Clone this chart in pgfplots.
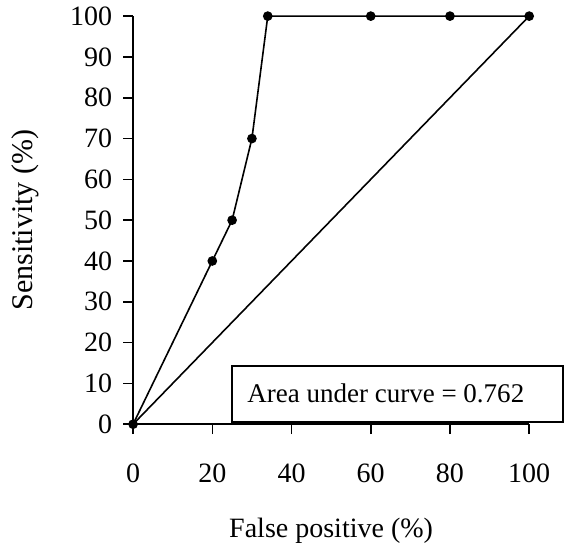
\documentclass[border=0pt]{standalone}
\usepackage{pgfplots}
\pgfplotsset{compat=1.18}
\usepackage{fontspec}
\setmainfont{Liberation Serif}
\begin{document}
\begin{tikzpicture}
\begin{axis}[
    scale only axis,
    width=198pt, height=204pt,
    xmin=0, xmax=100, ymin=0, ymax=100,
    axis x line=bottom, axis y line=left,
    axis line style={-, line width=0.8pt},
    xtick={0,20,...,100}, ytick={0,10,...,100},
    tick align=outside, major tick length=5pt,
    tick style={line width=0.8pt, black},
    /pgf/number format/assume math mode=true,
    ticklabel style={font=\fontsize{14}{16}\selectfont},
    xticklabel style={yshift=-11.5pt},
    yticklabel style={xshift=-2pt},
    xlabel={False positive (\%)},
    ylabel={Sensitivity (\%)},
    xlabel style={font=\fontsize{14}{16}\selectfont, at={(rel axis cs:0.5,-0.26)}, anchor=center},
    ylabel style={font=\fontsize{15}{17}\selectfont, at={(rel axis cs:-0.271,0.5)}, anchor=center},
    clip=false,
]
% invisible frame for the picture's proportions
\path (axis cs:-33.6,-30.6) rectangle (axis cs:109.8,103.7);
% chance line
\addplot[black, line width=0.8pt, no marks] coordinates {(0,0) (100,100)};
% ROC curve
\addplot[black, line width=0.8pt, mark=*, mark size=2pt] coordinates {
    (0,0) (20,40) (25,50) (30,70) (34,100) (60,100) (80,100) (100,100)
};
\draw[line width=0.8pt, fill=white] (axis cs:25,0.6) rectangle (axis cs:108.6,14.2);
\node[font=\fontsize{13.5}{16}\selectfont] at (axis cs:63.8,7.6) {Area under curve = 0.762};
\end{axis}
\end{tikzpicture}
\end{document}
